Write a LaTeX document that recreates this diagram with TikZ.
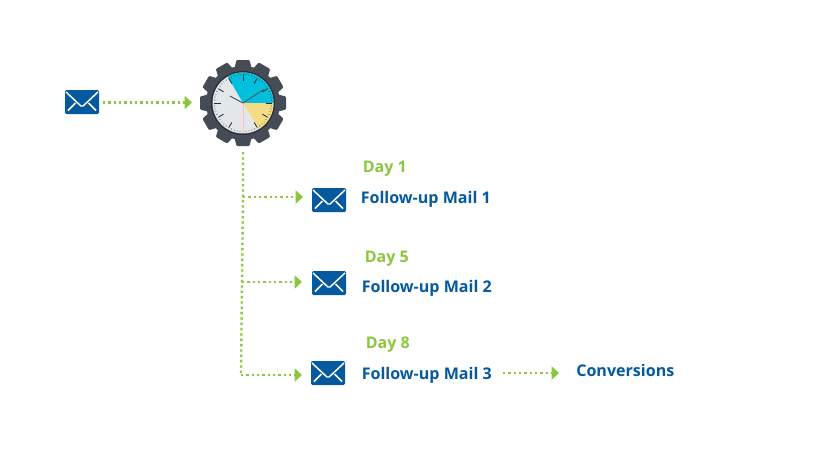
\documentclass[tikz,border=0pt]{standalone}
\usepackage{fontspec}
\setmainfont{Open Sans}
\usetikzlibrary{arrows.meta,calc}
\definecolor{mailblue}{HTML}{04599F}
\definecolor{leaf}{HTML}{8CC63F}
\definecolor{gearc}{HTML}{454C55}
\definecolor{ringc}{HTML}{2B3036}
\definecolor{facec}{HTML}{E4E7EA}
\definecolor{cyanc}{HTML}{00C0DE}
\definecolor{yellowc}{HTML}{F6DB85}
\tikzset{
  envelope/.style={fill=mailblue,rounded corners=1.1pt,minimum width=25.5pt,minimum height=18pt,inner sep=0pt,outer sep=0pt,
    path picture={
      \draw[white,line width=1.1pt,line join=round]
        ($(path picture bounding box.north west)+(.75pt,-1.5pt)$) -- ($(path picture bounding box.center)+(0pt,-3.75pt)$) -- ($(path picture bounding box.north east)+(-.75pt,-1.5pt)$);
      \draw[white,line width=1.1pt]
        ($(path picture bounding box.south west)+(2.25pt,2.6pt)$) -- ($(path picture bounding box.center)+(-4.9pt,-.75pt)$);
      \draw[white,line width=1.1pt]
        ($(path picture bounding box.south east)+(-2.25pt,2.6pt)$) -- ($(path picture bounding box.center)+(4.9pt,-.75pt)$);
    }},
  dots/.style={draw=leaf,line width=1.8pt,dash pattern=on 1.7pt off 2.3pt},
  flow/.style={dots,-{Triangle[length=5.5pt,width=9.75pt,fill=leaf]}},
  daylabel/.style={text=leaf,font=\bfseries\fontsize{12}{14}\selectfont,inner sep=0pt,anchor=base west},
  maillabel/.style={text=mailblue,font=\bfseries\fontsize{12.05}{14}\selectfont,inner sep=0pt,anchor=base west},
  tooth/.style={fill=gearc},
  tick/.style={ringc},
}
\begin{document}
\begin{tikzpicture}[x=.75pt,y=-.75pt]
\useasboundingbox (0,0) rectangle (826,475);
% gear
\coordinate (c) at (243,103);
\foreach \a in {0,30,...,330}{
  \fill[tooth,rotate around={\a:(c)},rounded corners=.75pt]
    ($(c)+(-9,-33)$) -- ($(c)+(-6.5,-43)$) -- ($(c)+(6.5,-43)$) -- ($(c)+(9,-33)$) -- cycle;
}
\fill[gearc] (c) circle (37);
\fill[ringc] (c) circle (32);
\fill[facec] (c) circle (30.5);
\fill[cyanc] (c) -- ++(-120:30.5) arc[start angle=-120,end angle=0,radius=30.5] -- cycle;
\fill[yellowc] (c) -- ++(0:30.5) arc[start angle=0,end angle=58,radius=30.5] -- cycle;
\foreach \a in {0,30,...,330}{
  \draw[tick,line width=.65pt] ($(c)+(\a:22.5)$) -- ($(c)+(\a:28)$);
}
\foreach \a in {0,6,...,354}{
  \draw[tick,line width=.4pt] ($(c)+(\a:28)$) -- ($(c)+(\a:29)$);
}
\draw[red!25!white,line width=.6pt] (c) -- ($(c)+(90:30)$);
\draw[ringc!80,line width=.7pt] (c) -- ($(c)+(-33:25)$);
\draw[ringc!80,line width=.75pt] (c) -- ($(c)+(-152:15)$);
\node[circle,minimum size=64.5pt,inner sep=0pt,outer sep=0pt] (gear) at (c) {};
% envelopes
\node[envelope] (m0) at (82,102) {};
\node[envelope] (m1) at (329,200) {};
\node[envelope] (m2) at (329,283) {};
\node[envelope] (m3) at (328,373) {};
% labels
\node[daylabel] (d1) at (362.5,172) {Day 1};
\node[maillabel] (f1) at (360.5,203) {Follow-up Mail 1};
\node[daylabel] (d2) at (364.5,262) {Day 5};
\node[maillabel] (f2) at (361.5,292) {Follow-up Mail 2};
\node[daylabel] (d3) at (365.5,348) {Day 8};
\node[maillabel] (f3) at (361.5,379) {Follow-up Mail 3};
\node[maillabel] (conv) at (576,376) {Conversions};
% connectors
\coordinate (j1) at (243,197);
\coordinate (j2) at (242,282);
\coordinate (j3) at (241,375);
\coordinate (y0) at (0,102.5);
\coordinate (y4) at (0,373);
\draw[flow,shorten <=3pt,shorten >=6pt] (m0.east |- y0) -- (gear.west |- y0);
\draw[dots,shorten <=4.5pt] (gear.south) -- (j1) -- (j2) -- (j3);
\draw[flow,shorten >=6.75pt] (j1) -- (m1.west |- j1);
\draw[flow,shorten >=7.5pt] (j2) -- (m2.west |- j2);
\draw[flow,shorten >=6.75pt] (j3) -- (m3.west |- j3);
\draw[flow,shorten <=8.25pt,shorten >=12.75pt] (f3.east |- y4) -- (conv.west |- y4);
\end{tikzpicture}
\end{document}
